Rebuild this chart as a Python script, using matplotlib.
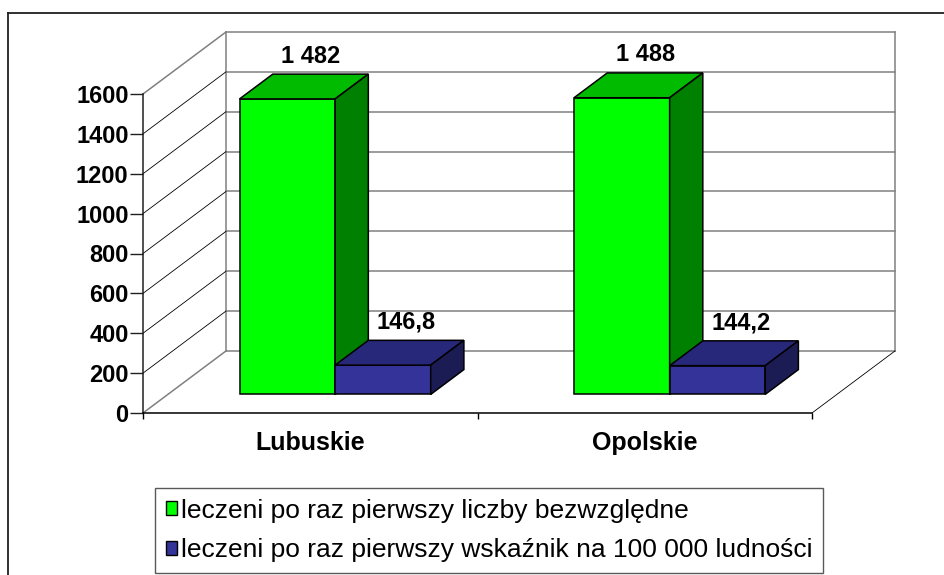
import matplotlib
matplotlib.use("Agg")
import matplotlib.pyplot as plt
from matplotlib.patches import Polygon, Patch
from matplotlib.lines import Line2D

# data
categories = ["Lubuskie", "Opolskie"]
series_names = ["leczeni po raz pierwszy liczby bezwzględne",
                "leczeni po raz pierwszy wskaźnik na 100 000 ludności"]
absolute = [1482, 1488]
per_100k = [146.8, 144.2]
value_labels = [["1 482", "1 488"], ["146,8", "144,2"]]
y_ticks = [0, 200, 400, 600, 800, 1000, 1200, 1400, 1600]

# face colours (front, top, side) for each series
shades = [("#00ff00", "#00bb00", "#008000"),
          ("#333399", "#28287a", "#1c1c55")]

FONT = "Liberation Sans"
W, H = 944, 575

# oblique 3d look: depth of the floor in data units
DEPTH_X = 0.248
DEPTH_Y = 311.0
BAR_W = 0.2857
D0, D1 = 0.3, 0.7  # bar front / back position inside the depth


def draw_bar(ax, x0, h, colors, z):
    front, top, side = colors
    ox0, oy0 = D0 * DEPTH_X, D0 * DEPTH_Y
    ox1, oy1 = D1 * DEPTH_X, D1 * DEPTH_Y
    ax.bar(x0 + ox0, h, BAR_W, bottom=oy0, align="edge", color=front,
           edgecolor="black", linewidth=1.1, zorder=z, clip_on=False)
    top_face = Polygon([(x0 + ox0, h + oy0), (x0 + BAR_W + ox0, h + oy0),
                        (x0 + BAR_W + ox1, h + oy1), (x0 + ox1, h + oy1)],
                       closed=True, facecolor=top, edgecolor="black",
                       linewidth=1.1, zorder=z, clip_on=False)
    side_face = Polygon([(x0 + BAR_W + ox0, oy0), (x0 + BAR_W + ox1, oy1),
                         (x0 + BAR_W + ox1, h + oy1), (x0 + BAR_W + ox0, h + oy0)],
                        closed=True, facecolor=side, edgecolor="black",
                        linewidth=1.1, zorder=z, clip_on=False)
    ax.add_patch(top_face)
    ax.add_patch(side_face)


def main():
    fig = plt.figure(figsize=(W / 100, H / 100), dpi=100)
    fig.patch.set_facecolor("white")
    ax = fig.add_axes([143 / W, 1 - 413 / H, 669 / W, 319 / H])
    ax.set_xlim(0, len(categories))
    ax.set_ylim(0, y_ticks[-1])
    ax.patch.set_alpha(0)

    n = len(categories)
    top_v = y_ticks[-1]

    # back wall
    for v in y_ticks:
        ax.plot([DEPTH_X, n + DEPTH_X], [v + DEPTH_Y, v + DEPTH_Y],
                color="#808080", lw=1.1, zorder=1, clip_on=False)
    for xx in (DEPTH_X, n + DEPTH_X):
        ax.plot([xx, xx], [DEPTH_Y, top_v + DEPTH_Y], color="#808080",
                lw=1.1, zorder=1, clip_on=False)
    # left wall
    for v in y_ticks:
        edge = v in (0, top_v)
        ax.plot([0, DEPTH_X], [v, v + DEPTH_Y],
                color="#808080" if edge else "black",
                lw=1.1 if edge else 0.6, zorder=1, clip_on=False)
    # floor right edge
    ax.plot([n, n + DEPTH_X], [0, DEPTH_Y], color="black", lw=0.6,
            zorder=1, clip_on=False)

    # bars, left to right so the overlaps come out right
    z = 3
    for i in range(n):
        c = i + 0.5
        for s, (vals, x0) in enumerate(((absolute, c - BAR_W), (per_100k, c))):
            draw_bar(ax, x0, vals[i], shades[s], z)
            z += 1
            lx = x0 + D0 * DEPTH_X + BAR_W / 2 + 0.28 * DEPTH_X
            ly = vals[i] + D1 * DEPTH_Y
            ax.annotate(value_labels[s][i], (lx, ly), xytext=(0, 13),
                        textcoords="offset points", ha="center", va="center",
                        fontsize=17, fontweight="bold", family=FONT,
                        zorder=20, annotation_clip=False)

    # axes
    for side in ("top", "right"):
        ax.spines[side].set_visible(False)
    ax.spines["left"].set_color("#202020")
    ax.spines["bottom"].set_color("black")
    ax.spines["left"].set_linewidth(1.1)
    ax.spines["bottom"].set_linewidth(1.1)
    ax.set_yticks(y_ticks)
    ax.set_yticklabels([str(v) for v in y_ticks], fontsize=17,
                       fontweight="bold", family=FONT)
    ax.tick_params(axis="y", direction="out", length=9.4, width=1.0,
                   pad=1, color="#202020")
    ax.set_xticks(range(n + 1))
    ax.set_xticklabels([""] * (n + 1))
    ax.tick_params(axis="x", which="major", direction="out", length=4.3,
                   width=1.0, color="black")
    ax.set_xticks([i + 0.5 for i in range(n)], minor=True)
    ax.set_xticklabels(categories, minor=True, fontsize=18,
                       fontweight="bold", family=FONT)
    ax.tick_params(axis="x", which="minor", length=0, pad=13)

    # legend
    handles = [Patch(facecolor=shades[s][0], edgecolor="black", linewidth=1.0)
               for s in range(2)]
    leg = fig.legend(handles, series_names, loc="upper left",
                     bbox_to_anchor=(155 / W, 1 - 488 / H),
                     prop={"family": FONT, "size": 19}, frameon=True,
                     fancybox=False, borderaxespad=0, borderpad=0.4,
                     handlelength=0.42, handleheight=0.42,
                     handletextpad=0.15, labelspacing=0.6)
    leg.get_frame().set_edgecolor("#303030")
    leg.get_frame().set_linewidth(1.0)

    # outer chart frame (runs off the bottom and right of the picture)
    fig.add_artist(Line2D([8 / W, 8 / W], [1 - 13 / H, 0], color="#202020",
                          lw=1.3, transform=fig.transFigure))
    fig.add_artist(Line2D([8 / W, 1], [1 - 13 / H, 1 - 13 / H],
                          color="#202020", lw=1.3, transform=fig.transFigure))

    fig.savefig("out.png", dpi=100)


if __name__ == "__main__":
    main()
